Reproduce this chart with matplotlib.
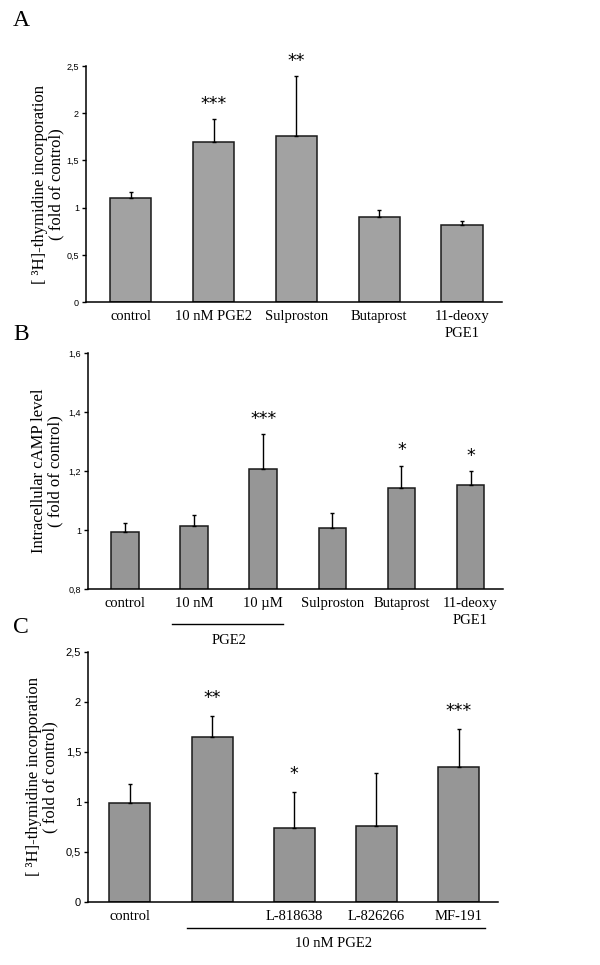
import matplotlib.pyplot as plt
from matplotlib.transforms import blended_transform_factory

# Panel A: [3H]-thymidine incorporation with prostanoid agonists
a_labels = ['control', '10 nM PGE2', 'Sulproston', 'Butaprost', '11-deoxy\nPGE1']
a_mean = [1.10, 1.70, 1.76, 0.90, 0.82]
a_err = [0.065, 0.235, 0.63, 0.08, 0.04]
a_stars = ['', '***', '**', '', '']
a_yticks = [0, 0.5, 1, 1.5, 2, 2.5]
a_yticklabels = ['0', '0,5', '1', '1,5', '2', '2,5']

# Panel B: intracellular cAMP
b_labels = ['control', '10 nM', '10 µM', 'Sulproston', 'Butaprost', '11-deoxy\nPGE1']
b_mean = [0.993, 1.015, 1.207, 1.006, 1.143, 1.153]
b_err = [0.031, 0.035, 0.118, 0.052, 0.075, 0.046]
b_stars = ['', '', '***', '', '*', '*']
b_yticks = [0.8, 1.0, 1.2, 1.4, 1.6]
b_yticklabels = ['0,8', '1', '1,2', '1,4', '1,6']

# Panel C: antagonists on top of 10 nM PGE2
c_labels = ['control', '', 'L-818638', 'L-826266', 'MF-191']
c_mean = [0.99, 1.646, 0.738, 0.761, 1.346]
c_err = [0.19, 0.212, 0.366, 0.532, 0.386]
c_stars = ['', '**', '*', '', '***']
c_yticks = a_yticks
c_yticklabels = a_yticklabels

SERIF = 'Liberation Serif'
SANS = 'Liberation Sans'


def draw_panel(ax, labels, mean, err, stars, color, width, yticks, yticklabels,
               xlim, tick_fs, ylabel, label_x, star_off):
    x = list(range(len(mean)))
    ax.bar(x, mean, width=width, color=color, edgecolor='#1a1a1a', linewidth=1.1,
           zorder=2)
    ax.errorbar(x, mean, yerr=[[0] * len(err), err], fmt='none', ecolor='black',
                elinewidth=1.0, capsize=1.5, capthick=1.0, zorder=3)
    for xi, m, e, s in zip(x, mean, err, stars):
        if s:
            ax.annotate(s, (xi, m + e), xytext=(0, star_off), textcoords='offset points',
                        ha='center', va='center', fontsize=12.5, family='DejaVu Sans',
                        annotation_clip=False)
    ax.set_xlim(*xlim)
    ax.set_ylim(yticks[0], yticks[-1])
    ax.set_yticks(yticks)
    ax.set_yticklabels(yticklabels, fontsize=tick_fs, family=SANS)
    ax.set_xticks(x)
    ax.set_xticklabels(labels, fontsize=10.5, family=SERIF)
    for t in ax.get_xticklabels():
        t.set_linespacing(1.35)
    ax.tick_params(axis='x', length=0, pad=6)
    ax.tick_params(axis='y', length=3, width=1, pad=2, direction='out')
    for side in ['top', 'right']:
        ax.spines[side].set_visible(False)
    for side in ['left', 'bottom']:
        ax.spines[side].set_linewidth(1.1)
    ax.set_ylabel(ylabel, fontsize=12, family=SERIF, linespacing=1.05)
    ax.yaxis.set_label_coords(label_x, 0.5)


fig = plt.figure(figsize=(6.0, 9.65), dpi=100)

axA = fig.add_axes([0.1433, 0.687, 0.6933, 0.2446])
draw_panel(axA, a_labels, a_mean, a_err, a_stars, '#a2a2a2', 0.5, a_yticks,
           a_yticklabels, (-0.54, 4.48), 6.5,
           '[ ³H]-thymidine incorporation\n( fold of control)', -0.052, 11)

axB = fig.add_axes([0.1467, 0.3896, 0.6917, 0.2446])
draw_panel(axB, b_labels, b_mean, b_err, b_stars, '#969696', 0.4, b_yticks,
           b_yticklabels, (-0.535, 5.47), 6.5,
           'Intracellular cAMP level\n( fold of control)', -0.06, 11)

axC = fig.add_axes([0.1467, 0.0653, 0.6833, 0.2591])
draw_panel(axC, c_labels, c_mean, c_err, c_stars, '#969696', 0.5, c_yticks,
           c_yticklabels, (-0.51, 4.48), 8,
           '[ ³H]-thymidine incorporation\n( fold of control)', -0.072, 13)

# group bracket under PGE2 concentrations in B
trB = blended_transform_factory(axB.transData, axB.transAxes)
axB.plot([0.68, 2.29], [-0.148, -0.148], color='black', lw=1, transform=trB,
         clip_on=False)
axB.text(1.5, -0.216, 'PGE2', transform=trB, ha='center', va='center',
         fontsize=10.5, family=SERIF)

# group bracket under 10 nM PGE2 treatments in C
trC = blended_transform_factory(axC.transData, axC.transAxes)
axC.plot([0.69, 4.32], [-0.104, -0.104], color='black', lw=1, transform=trC,
         clip_on=False)
axC.text(2.48, -0.168, '10 nM PGE2', transform=trC, ha='center', va='center',
         fontsize=10.5, family=SERIF)

# panel letters
for letter, y in [('A', 0.979), ('B', 0.653), ('C', 0.35)]:
    fig.text(0.035, y, letter, fontsize=17, family=SERIF, ha='center', va='center')

fig.savefig('out.png', dpi=100)
